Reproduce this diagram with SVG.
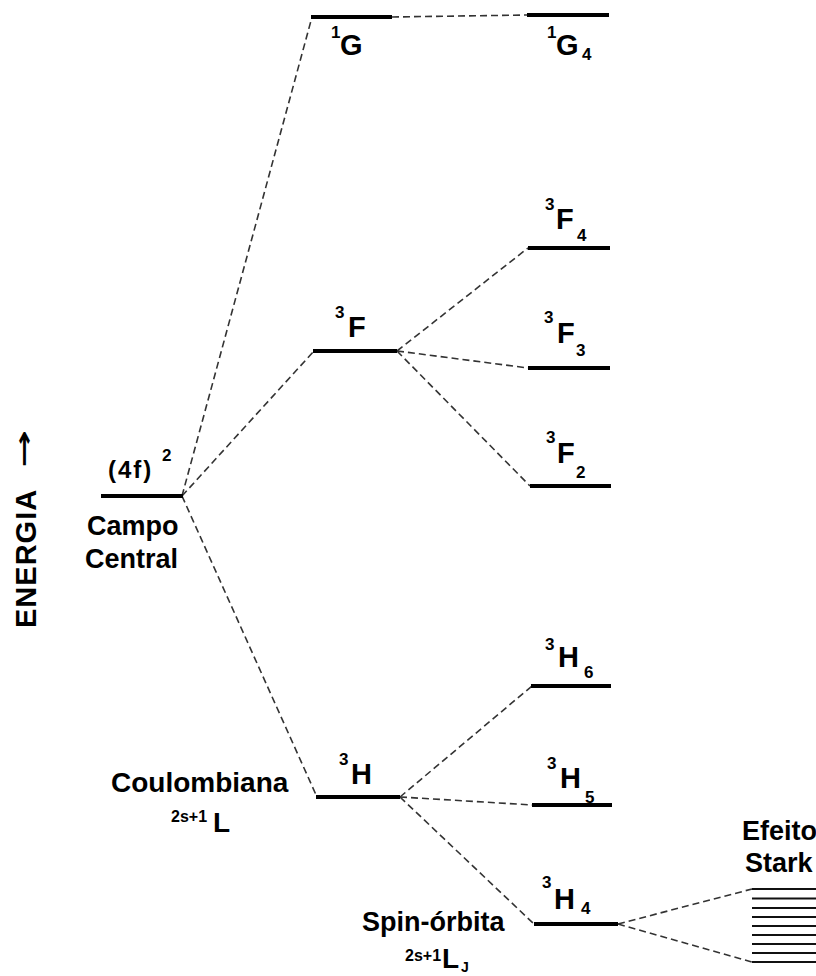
<svg xmlns="http://www.w3.org/2000/svg" width="816" height="976" viewBox="0 0 816 976">
<style>
.lvl{stroke:#000;stroke-width:4;fill:none}
.con{stroke:#333;stroke-width:1.6;stroke-dasharray:7 4;fill:none}
.stk{stroke:#111;stroke-width:2}
text{font-family:"Liberation Sans",Arial,"DejaVu Sans",sans-serif;font-weight:bold;fill:#000}
.lab{font-size:27px}
.big{font-size:29px}
.sup{font-size:17px}
</style>
<rect width="816" height="976" fill="#fff"/>
<g id="axis">
<text transform="translate(36,628) rotate(-90)" font-size="29" letter-spacing="1">ENERGIA</text>
<text transform="translate(32,468) rotate(-90) scale(1.9,1)" font-size="24" font-weight="normal" style="font-family:'DejaVu Sans',sans-serif">→</text>
</g>
<g id="connectors">
<line class="con" x1="182" y1="496" x2="312" y2="17"/>
<line class="con" x1="182" y1="496" x2="314" y2="351"/>
<line class="con" x1="182" y1="496" x2="317" y2="797"/>
<line class="con" x1="392" y1="17" x2="527" y2="15"/>
<line class="con" x1="397" y1="351" x2="528" y2="248"/>
<line class="con" x1="397" y1="351" x2="528" y2="368"/>
<line class="con" x1="397" y1="351" x2="530" y2="486"/>
<line class="con" x1="400" y1="797" x2="532" y2="686"/>
<line class="con" x1="400" y1="797" x2="533" y2="805"/>
<line class="con" x1="400" y1="797" x2="534" y2="924"/>
<line class="con" x1="618" y1="924" x2="752" y2="889"/>
<line class="con" x1="618" y1="924" x2="752" y2="962"/>
</g>
<g id="central">
<line class="lvl" x1="101" y1="496" x2="183" y2="496"/>
<text x="108" y="478" font-size="24" letter-spacing="2">(4f)</text>
<text class="sup" x="162" y="461">2</text>
<text class="lab" x="87" y="535">Campo</text>
<text class="lab" x="85" y="568">Central</text>
</g>
<g id="coulomb-label">
<text x="111" y="792" font-size="28">Coulombiana</text>
<text x="171" y="822" font-size="16">2s+1</text>
<text x="213" y="832" font-size="28">L</text>
</g>
<g id="term-1G">
<line class="lvl" x1="311" y1="17" x2="392" y2="17"/>
<text class="sup" x="331" y="38">1</text>
<text class="big" x="340" y="55">G</text>
</g>
<g id="term-3F">
<line class="lvl" x1="313" y1="351" x2="397" y2="351"/>
<text class="sup" x="335" y="318">3</text>
<text class="big" x="348" y="337">F</text>
</g>
<g id="term-3H">
<line class="lvl" x1="316" y1="797" x2="400" y2="797"/>
<text class="sup" x="339" y="765">3</text>
<text class="big" x="351" y="784">H</text>
</g>
<g id="level-1G4">
<line class="lvl" x1="527" y1="15" x2="609" y2="15"/>
<text class="sup" x="547" y="38">1</text>
<text class="big" x="556" y="55">G</text>
<text class="sup" x="582" y="60">4</text>
</g>
<g id="level-3F4">
<line class="lvl" x1="528" y1="248" x2="610" y2="248"/>
<text class="sup" x="545" y="210">3</text>
<text class="big" x="556" y="229">F</text>
<text class="sup" x="577" y="241">4</text>
</g>
<g id="level-3F3">
<line class="lvl" x1="528" y1="368" x2="610" y2="368"/>
<text class="sup" x="544" y="323">3</text>
<text class="big" x="557" y="343">F</text>
<text class="sup" x="576" y="356">3</text>
</g>
<g id="level-3F2">
<line class="lvl" x1="530" y1="486" x2="611" y2="486"/>
<text class="sup" x="546" y="443">3</text>
<text class="big" x="557" y="463">F</text>
<text class="sup" x="576" y="478">2</text>
</g>
<g id="level-3H6">
<line class="lvl" x1="531" y1="686" x2="611" y2="686"/>
<text class="sup" x="545" y="650">3</text>
<text class="big" x="558" y="667">H</text>
<text class="sup" x="584" y="678">6</text>
</g>
<g id="level-3H5">
<line class="lvl" x1="532" y1="805" x2="612" y2="805"/>
<text class="sup" x="547" y="769">3</text>
<text class="big" x="560" y="788">H</text>
<text class="sup" x="585" y="803">5</text>
</g>
<g id="level-3H4">
<line class="lvl" x1="534" y1="924" x2="618" y2="924"/>
<text class="sup" x="542" y="888">3</text>
<text class="big" x="554" y="909">H</text>
<text class="sup" x="581" y="914">4</text>
</g>
<g id="spin-label">
<text class="lab" x="362" y="931">Spin-órbita</text>
<text x="405" y="961" font-size="16">2s+1</text>
<text x="442" y="968" font-size="28">L</text>
<text x="461" y="972" font-size="14">J</text>
</g>
<g id="stark">
<text class="lab" x="742" y="840">Efeito</text>
<text class="lab" x="745" y="872">Stark</text>
<line class="stk" x1="752" y1="889" x2="816" y2="889"/>
<line class="stk" x1="752" y1="898.5" x2="816" y2="898.5"/>
<line class="stk" x1="752" y1="908" x2="816" y2="908"/>
<line class="stk" x1="752" y1="917" x2="816" y2="917"/>
<line class="stk" x1="752" y1="926" x2="816" y2="926"/>
<line class="stk" x1="752" y1="935" x2="816" y2="935"/>
<line class="stk" x1="752" y1="944" x2="816" y2="944"/>
<line class="stk" x1="752" y1="953" x2="816" y2="953"/>
<line class="stk" x1="752" y1="962" x2="816" y2="962"/>
</g>
</svg>
